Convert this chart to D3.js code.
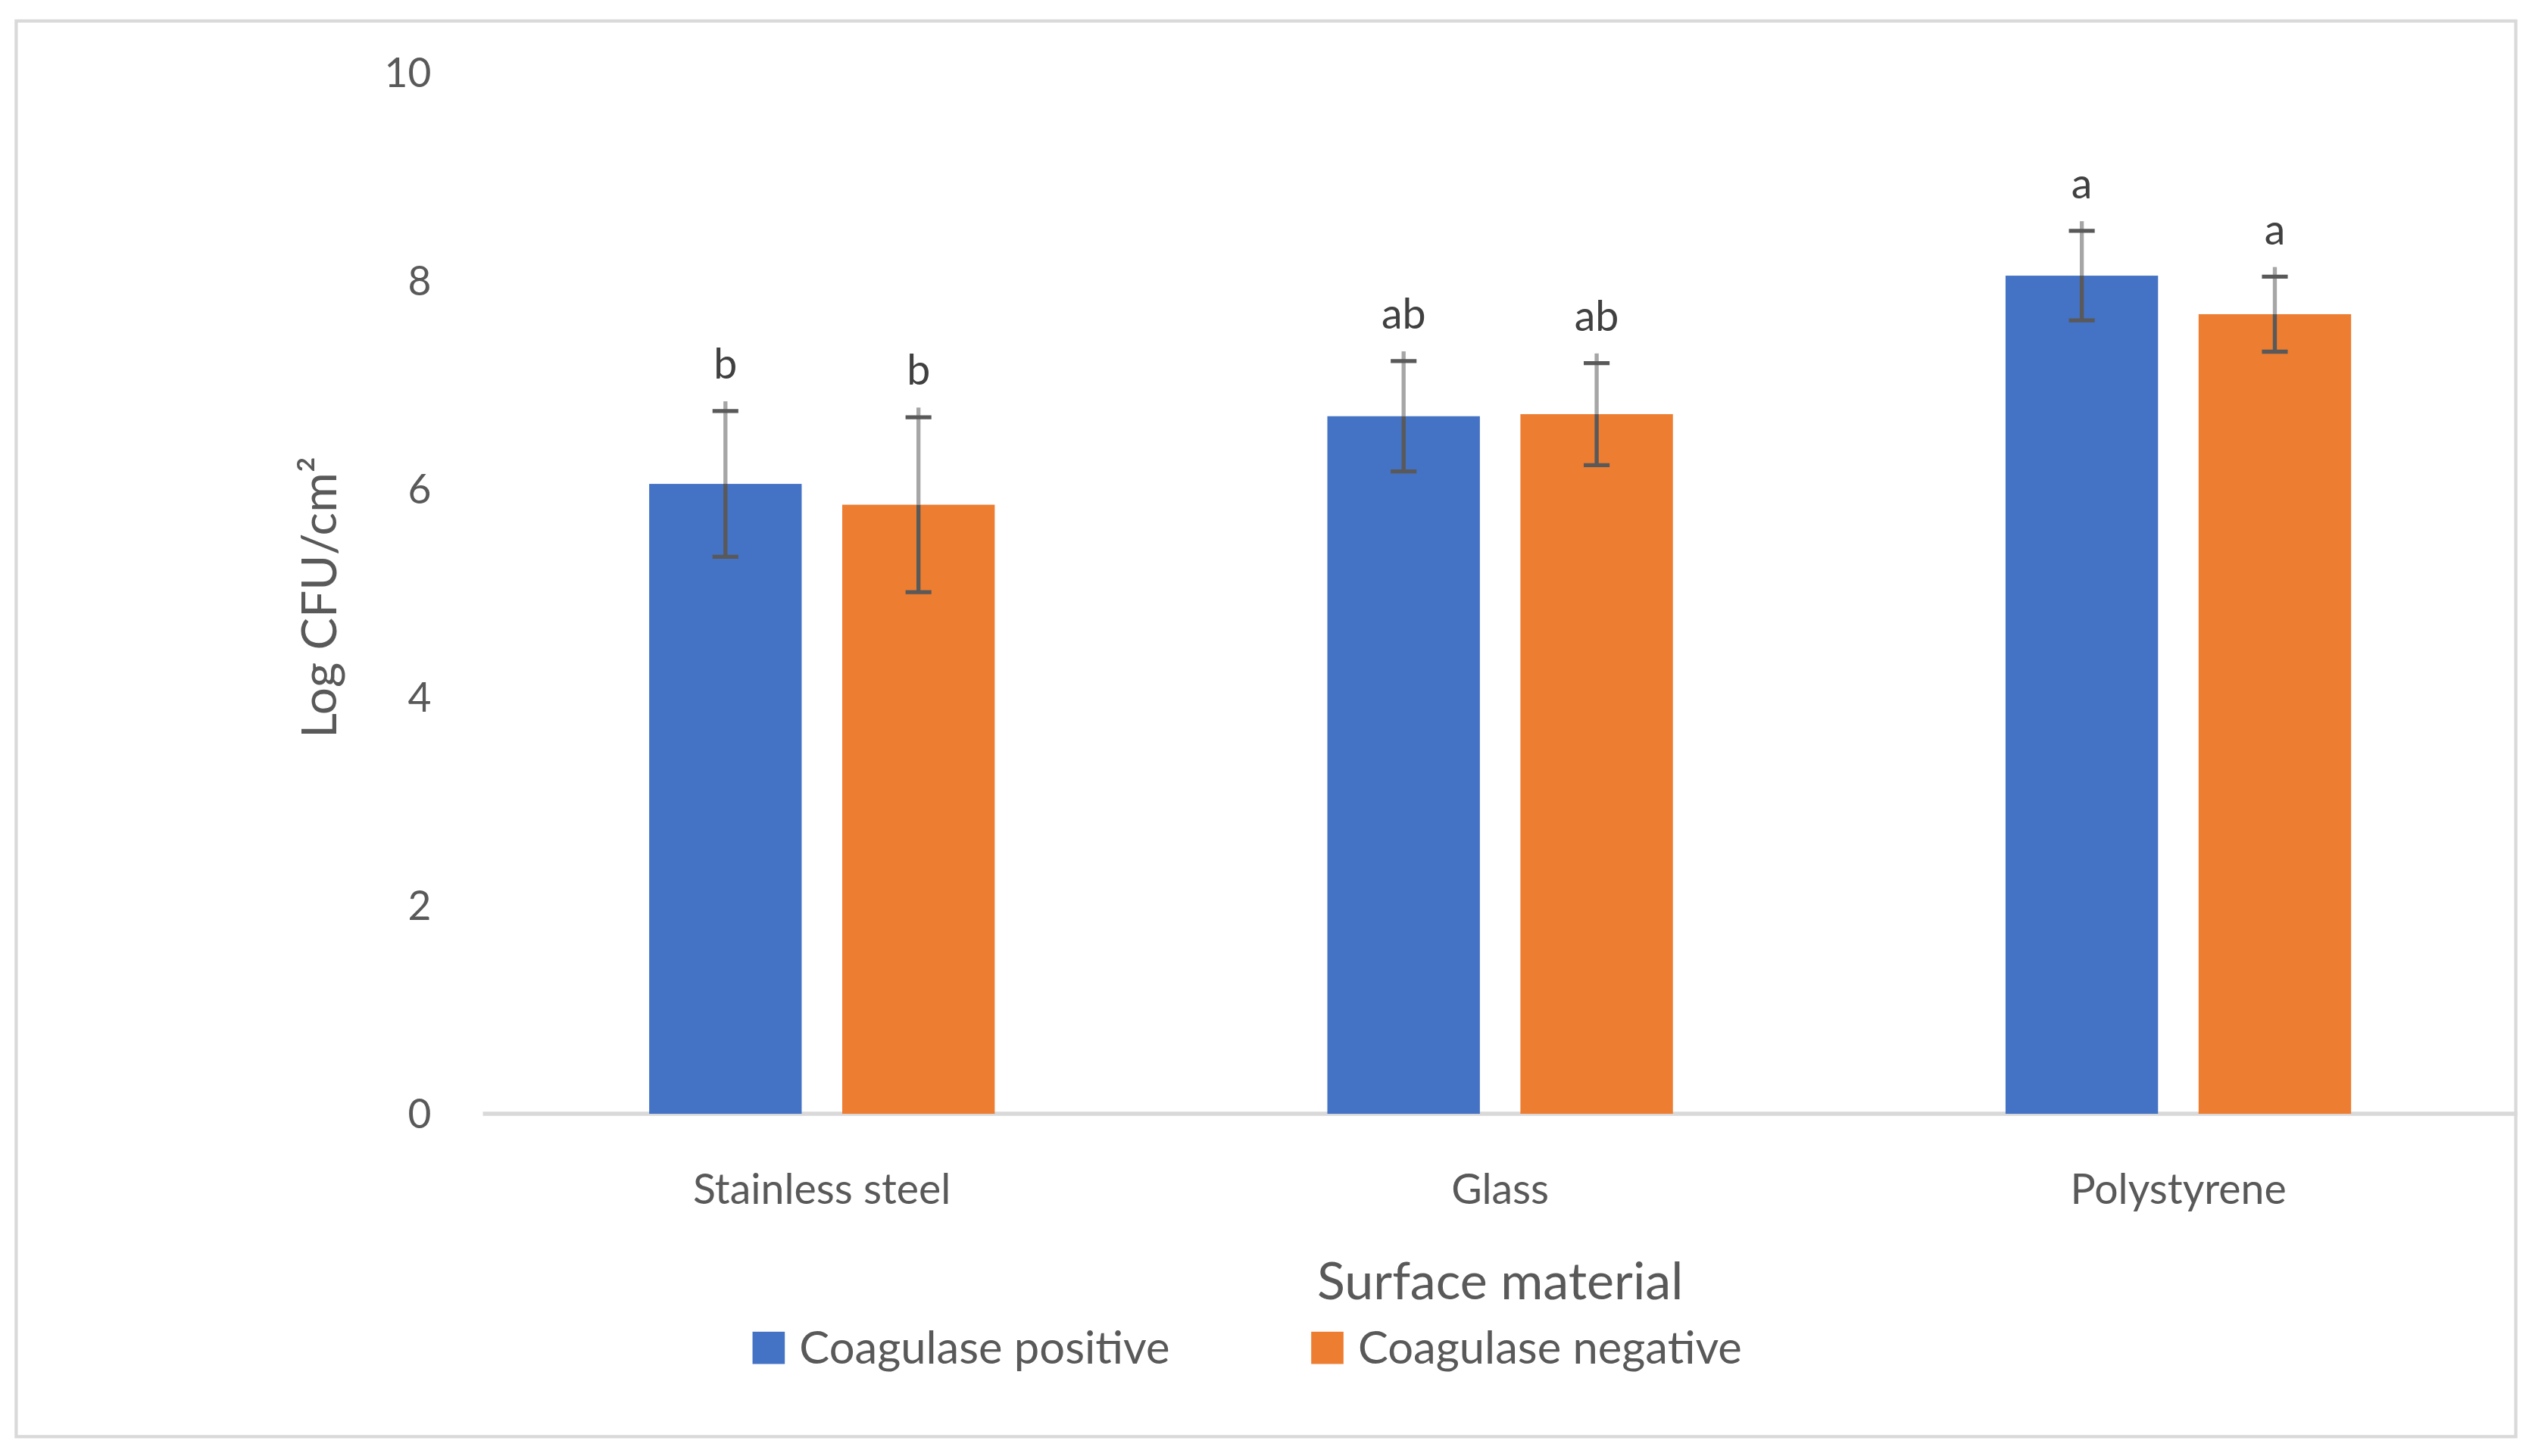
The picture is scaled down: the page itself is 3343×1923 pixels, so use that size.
<!DOCTYPE html>
<html><head><meta charset="utf-8">
<script src="https://cdn.jsdelivr.net/npm/d3@7"></script>
<style>body{margin:0;background:#fff}svg{display:block}text{font-family:Lato,"Open Sans",sans-serif;fill:#595959}</style>
</head><body>
<script>
const categories = ["Stainless steel","Glass","Polystyrene"];
const seriesNames = ["Coagulase positive","Coagulase negative"];
const positiveVals = [6.05,6.70,8.05];
const negativeVals = [5.85,6.72,7.68];
const positiveErr = [0.70,0.53,0.43];
const negativeErr = [0.84,0.49,0.36];
const positiveLetters = ["b","ab","a"];
const negativeLetters = ["b","ab","a"];
const yTicks = [0,2,4,6,8,10];
const colors = ["#4472C4","#ED7D31"];

const svg = d3.select("body").append("svg").attr("width",3343).attr("height",1923)
  .attr("viewBox","0 0 1568 902");
svg.append("rect").attr("x",10).attr("y",13).attr("width",1548).attr("height",877)
  .attr("fill","#fff").attr("stroke","#d9d9d9").attr("stroke-width",2);

const x0 = d3.scaleBand().domain(categories).range([299,1559]).paddingInner(0).paddingOuter(0);
const x1 = d3.scaleBand().domain(seriesNames).range([103,317]).paddingInner(0.21);
const y = d3.scaleLinear().domain([0,10]).range([690,45]);

yTicks.forEach(t=>{
  svg.append("text").attr("x",267).attr("y",y(t)).attr("dy","0.35em").attr("text-anchor","end")
    .attr("font-size",25).text(t);
});
svg.append("line").attr("x1",299).attr("x2",1559).attr("y1",y(0)).attr("y2",y(0))
  .attr("stroke","#d9d9d9").attr("stroke-width",2.5);

const data = [];
categories.forEach((c,i)=>{
  data.push({c,s:seriesNames[0],v:positiveVals[i],e:positiveErr[i],l:positiveLetters[i],col:colors[0]});
  data.push({c,s:seriesNames[1],v:negativeVals[i],e:negativeErr[i],l:negativeLetters[i],col:colors[1]});
});
data.forEach(d=>{
  const bx = x0(d.c)+x1(d.s), bw = x1.bandwidth(), cx = bx+bw/2;
  svg.append("rect").attr("x",bx).attr("y",y(d.v)).attr("width",bw).attr("height",y(0)-y(d.v)).attr("fill",d.col);
  svg.append("line").attr("x1",cx).attr("x2",cx).attr("y1",y(d.v+d.e)-6).attr("y2",y(d.v))
    .attr("stroke","#a6a6a6").attr("stroke-width",2.5);
  svg.append("line").attr("x1",cx).attr("x2",cx).attr("y1",y(d.v)).attr("y2",y(d.v-d.e))
    .attr("stroke","#595959").attr("stroke-width",2.5);
  [d.v+d.e,d.v-d.e].forEach(v=>svg.append("line").attr("x1",cx-8).attr("x2",cx+8).attr("y1",y(v)).attr("y2",y(v))
    .attr("stroke","#595959").attr("stroke-width",2.5));
  svg.append("text").attr("x",cx).attr("y",y(d.v+d.e)-20).attr("text-anchor","middle")
    .attr("font-size",26).attr("fill","#404040").style("fill","#404040").text(d.l);
  svg.append("text");
});

categories.forEach(c=>{
  svg.append("text").attr("x",x0(c)+x0.bandwidth()/2).attr("y",746).attr("text-anchor","middle")
    .attr("font-size",26).text(c);
});
svg.append("text").attr("x",929).attr("y",805).attr("text-anchor","middle").attr("font-size",32).text("Surface material");
svg.append("text").attr("transform","translate(208,370) rotate(-90)").attr("text-anchor","middle")
  .attr("font-size",30).text("Log CFU/cm²");

const legX = [466,812];
seriesNames.forEach((s,i)=>{
  svg.append("rect").attr("x",legX[i]).attr("y",825).attr("width",20).attr("height",20).attr("fill",colors[i]);
  svg.append("text").attr("x",legX[i]+29).attr("y",835).attr("dy","0.35em").attr("font-size",28).text(s);
});
</script>
</body></html>
